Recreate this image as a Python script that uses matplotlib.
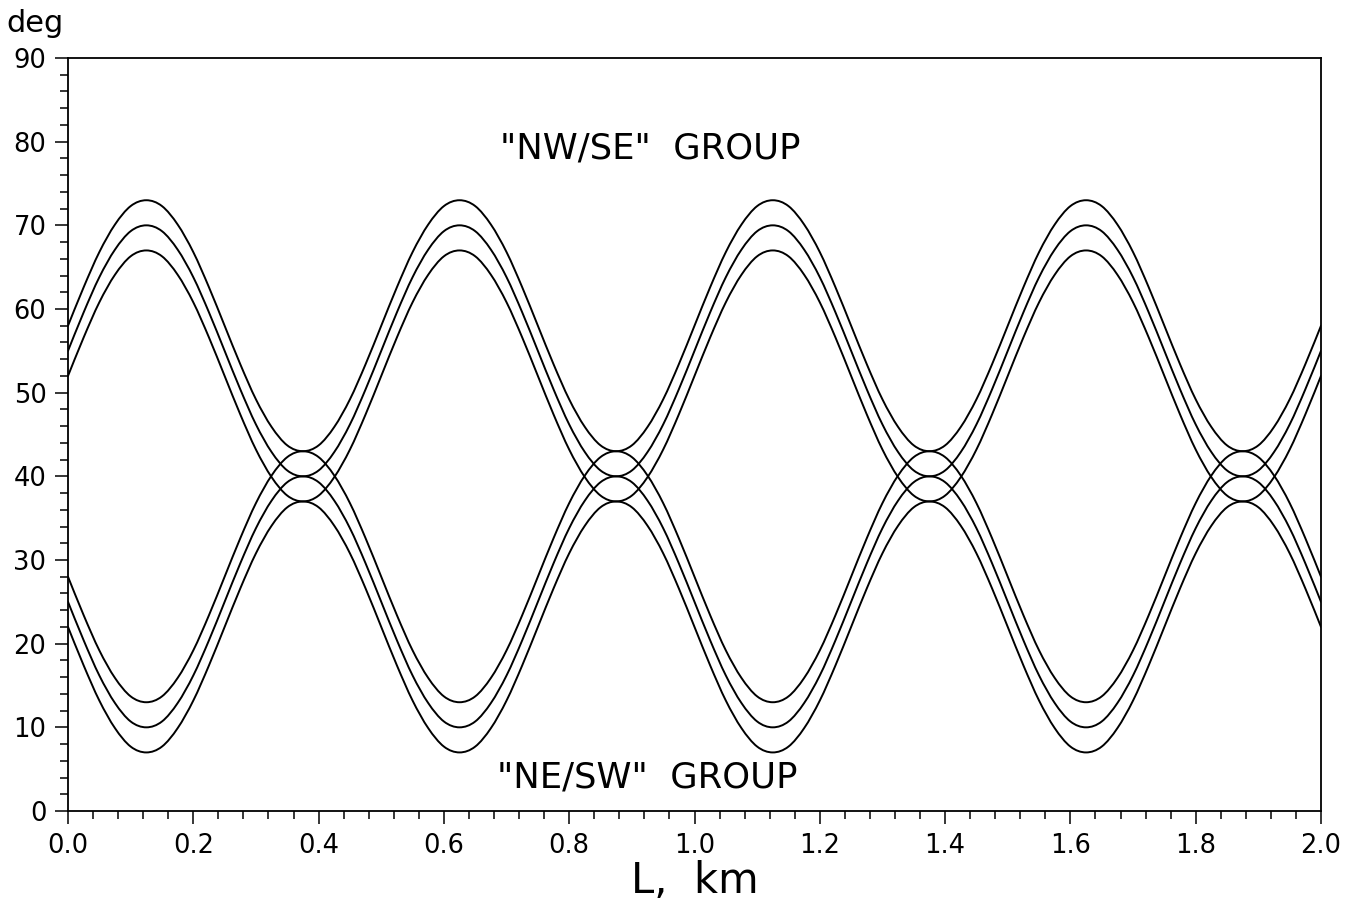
import matplotlib
matplotlib.use("Agg")
import matplotlib.pyplot as plt
from matplotlib.ticker import MultipleLocator
from matplotlib.path import Path
from matplotlib.patches import PathPatch

# ---- data (deg vs L, km) ----
x_km = [0.000, 0.025, 0.050, 0.075, 0.100, 0.125, 0.150, 0.175, 0.200, 0.225,
        0.250, 0.275, 0.300, 0.325, 0.350, 0.375, 0.400, 0.425, 0.450, 0.475,
        0.500, 0.525, 0.550, 0.575, 0.600, 0.625, 0.650, 0.675, 0.700, 0.725,
        0.750, 0.775, 0.800, 0.825, 0.850, 0.875, 0.900, 0.925, 0.950, 0.975,
        1.000, 1.025, 1.050, 1.075, 1.100, 1.125, 1.150, 1.175, 1.200, 1.225,
        1.250, 1.275, 1.300, 1.325, 1.350, 1.375, 1.400, 1.425, 1.450, 1.475,
        1.500, 1.525, 1.550, 1.575, 1.600, 1.625, 1.650, 1.675, 1.700, 1.725,
        1.750, 1.775, 1.800, 1.825, 1.850, 1.875, 1.900, 1.925, 1.950, 1.975,
        2.000]

nwse_hi = [58.0, 62.6, 66.8, 70.1, 72.3, 73.0, 72.3, 70.1, 66.8, 62.6,
           58.0, 53.4, 49.2, 45.9, 43.7, 43.0, 43.7, 45.9, 49.2, 53.4,
           58.0, 62.6, 66.8, 70.1, 72.3, 73.0, 72.3, 70.1, 66.8, 62.6,
           58.0, 53.4, 49.2, 45.9, 43.7, 43.0, 43.7, 45.9, 49.2, 53.4,
           58.0, 62.6, 66.8, 70.1, 72.3, 73.0, 72.3, 70.1, 66.8, 62.6,
           58.0, 53.4, 49.2, 45.9, 43.7, 43.0, 43.7, 45.9, 49.2, 53.4,
           58.0, 62.6, 66.8, 70.1, 72.3, 73.0, 72.3, 70.1, 66.8, 62.6,
           58.0, 53.4, 49.2, 45.9, 43.7, 43.0, 43.7, 45.9, 49.2, 53.4,
           58.0]
nwse_mid = [55.0, 59.6, 63.8, 67.1, 69.3, 70.0, 69.3, 67.1, 63.8, 59.6,
            55.0, 50.4, 46.2, 42.9, 40.7, 40.0, 40.7, 42.9, 46.2, 50.4,
            55.0, 59.6, 63.8, 67.1, 69.3, 70.0, 69.3, 67.1, 63.8, 59.6,
            55.0, 50.4, 46.2, 42.9, 40.7, 40.0, 40.7, 42.9, 46.2, 50.4,
            55.0, 59.6, 63.8, 67.1, 69.3, 70.0, 69.3, 67.1, 63.8, 59.6,
            55.0, 50.4, 46.2, 42.9, 40.7, 40.0, 40.7, 42.9, 46.2, 50.4,
            55.0, 59.6, 63.8, 67.1, 69.3, 70.0, 69.3, 67.1, 63.8, 59.6,
            55.0, 50.4, 46.2, 42.9, 40.7, 40.0, 40.7, 42.9, 46.2, 50.4,
            55.0]
nwse_lo = [52.0, 56.6, 60.8, 64.1, 66.3, 67.0, 66.3, 64.1, 60.8, 56.6,
           52.0, 47.4, 43.2, 39.9, 37.7, 37.0, 37.7, 39.9, 43.2, 47.4,
           52.0, 56.6, 60.8, 64.1, 66.3, 67.0, 66.3, 64.1, 60.8, 56.6,
           52.0, 47.4, 43.2, 39.9, 37.7, 37.0, 37.7, 39.9, 43.2, 47.4,
           52.0, 56.6, 60.8, 64.1, 66.3, 67.0, 66.3, 64.1, 60.8, 56.6,
           52.0, 47.4, 43.2, 39.9, 37.7, 37.0, 37.7, 39.9, 43.2, 47.4,
           52.0, 56.6, 60.8, 64.1, 66.3, 67.0, 66.3, 64.1, 60.8, 56.6,
           52.0, 47.4, 43.2, 39.9, 37.7, 37.0, 37.7, 39.9, 43.2, 47.4,
           52.0]

nesw_hi = [28.0, 23.4, 19.2, 15.9, 13.7, 13.0, 13.7, 15.9, 19.2, 23.4,
           28.0, 32.6, 36.8, 40.1, 42.3, 43.0, 42.3, 40.1, 36.8, 32.6,
           28.0, 23.4, 19.2, 15.9, 13.7, 13.0, 13.7, 15.9, 19.2, 23.4,
           28.0, 32.6, 36.8, 40.1, 42.3, 43.0, 42.3, 40.1, 36.8, 32.6,
           28.0, 23.4, 19.2, 15.9, 13.7, 13.0, 13.7, 15.9, 19.2, 23.4,
           28.0, 32.6, 36.8, 40.1, 42.3, 43.0, 42.3, 40.1, 36.8, 32.6,
           28.0, 23.4, 19.2, 15.9, 13.7, 13.0, 13.7, 15.9, 19.2, 23.4,
           28.0, 32.6, 36.8, 40.1, 42.3, 43.0, 42.3, 40.1, 36.8, 32.6,
           28.0]
nesw_mid = [25.0, 20.4, 16.2, 12.9, 10.7, 10.0, 10.7, 12.9, 16.2, 20.4,
            25.0, 29.6, 33.8, 37.1, 39.3, 40.0, 39.3, 37.1, 33.8, 29.6,
            25.0, 20.4, 16.2, 12.9, 10.7, 10.0, 10.7, 12.9, 16.2, 20.4,
            25.0, 29.6, 33.8, 37.1, 39.3, 40.0, 39.3, 37.1, 33.8, 29.6,
            25.0, 20.4, 16.2, 12.9, 10.7, 10.0, 10.7, 12.9, 16.2, 20.4,
            25.0, 29.6, 33.8, 37.1, 39.3, 40.0, 39.3, 37.1, 33.8, 29.6,
            25.0, 20.4, 16.2, 12.9, 10.7, 10.0, 10.7, 12.9, 16.2, 20.4,
            25.0, 29.6, 33.8, 37.1, 39.3, 40.0, 39.3, 37.1, 33.8, 29.6,
            25.0]
nesw_lo = [22.0, 17.4, 13.2, 9.9, 7.7, 7.0, 7.7, 9.9, 13.2, 17.4,
           22.0, 26.6, 30.8, 34.1, 36.3, 37.0, 36.3, 34.1, 30.8, 26.6,
           22.0, 17.4, 13.2, 9.9, 7.7, 7.0, 7.7, 9.9, 13.2, 17.4,
           22.0, 26.6, 30.8, 34.1, 36.3, 37.0, 36.3, 34.1, 30.8, 26.6,
           22.0, 17.4, 13.2, 9.9, 7.7, 7.0, 7.7, 9.9, 13.2, 17.4,
           22.0, 26.6, 30.8, 34.1, 36.3, 37.0, 36.3, 34.1, 30.8, 26.6,
           22.0, 17.4, 13.2, 9.9, 7.7, 7.0, 7.7, 9.9, 13.2, 17.4,
           22.0, 26.6, 30.8, 34.1, 36.3, 37.0, 36.3, 34.1, 30.8, 26.6,
           22.0]

x_ticks = [0.0, 0.2, 0.4, 0.6, 0.8, 1.0, 1.2, 1.4, 1.6, 1.8, 2.0]
x_ticklabels = ["0.0", "0.2", "0.4", "0.6", "0.8", "1.0", "1.2", "1.4", "1.6", "1.8", "2.0"]
y_ticks = [0, 10, 20, 30, 40, 50, 60, 70, 80, 90]
y_ticklabels = ["0", "10", "20", "30", "40", "50", "60", "70", "80", "90"]


def smooth_path(xs, ys):
    """Smooth drawing path (Catmull-Rom as cubic Bezier) through the data points."""
    n = len(xs)
    verts = [(xs[0], ys[0])]
    codes = [Path.MOVETO]
    for i in range(n - 1):
        i0 = max(i - 1, 0)
        i3 = min(i + 2, n - 1)
        c1 = (xs[i] + (xs[i + 1] - xs[i0]) / 6.0, ys[i] + (ys[i + 1] - ys[i0]) / 6.0)
        c2 = (xs[i + 1] - (xs[i3] - xs[i]) / 6.0, ys[i + 1] - (ys[i3] - ys[i]) / 6.0)
        verts += [c1, c2, (xs[i + 1], ys[i + 1])]
        codes += [Path.CURVE4, Path.CURVE4, Path.CURVE4]
    return Path(verts, codes)


# ---- figure ----
plt.rcParams['font.family'] = ['DejaVu Sans']
W, H = 1349, 901
fig = plt.figure(figsize=(W / 100, H / 100), dpi=100)
left, right, bottom, top = 68 / W, 1321 / W, 1 - 811 / H, 1 - 58 / H
ax = fig.add_axes([left, bottom, right - left, top - bottom])

for ys in (nwse_hi, nwse_mid, nwse_lo, nesw_hi, nesw_mid, nesw_lo):
    ax.add_patch(PathPatch(smooth_path(x_km, ys), facecolor='none',
                           edgecolor='black', lw=1.4, capstyle='round',
                           joinstyle='round', transform=ax.transData))

ax.set_xlim(0, 2.0)
ax.set_ylim(0, 90)
ax.set_xticks(x_ticks)
ax.set_xticklabels(x_ticklabels)
ax.set_yticks(y_ticks)
ax.set_yticklabels(y_ticklabels)
ax.xaxis.set_minor_locator(MultipleLocator(0.04))
ax.yaxis.set_minor_locator(MultipleLocator(2))
ax.tick_params(which='major', direction='out', length=9.5, width=1.1,
               labelsize=18.5, pad=6, color='black')
ax.tick_params(which='minor', direction='out', length=6, width=1.1, color='black')
ax.tick_params(top=False, right=False, which='both')
for s in ax.spines.values():
    s.set_linewidth(1.3)
    s.set_color('black')

ax.text(0.93, 78.0, '"NW/SE"  GROUP', fontsize=25.5, ha='center', va='baseline')
ax.text(0.925, 2.75, '"NE/SW"  GROUP', fontsize=25.5, ha='center', va='baseline')

fig.text(6 / W, 1 - 32 / H, 'deg', fontsize=22, ha='left', va='baseline')
fig.text(694.5 / W, 1 - 893 / H, 'L,  km', fontsize=30, ha='center', va='baseline')

fig.savefig('out.png', dpi=100, facecolor='white')
